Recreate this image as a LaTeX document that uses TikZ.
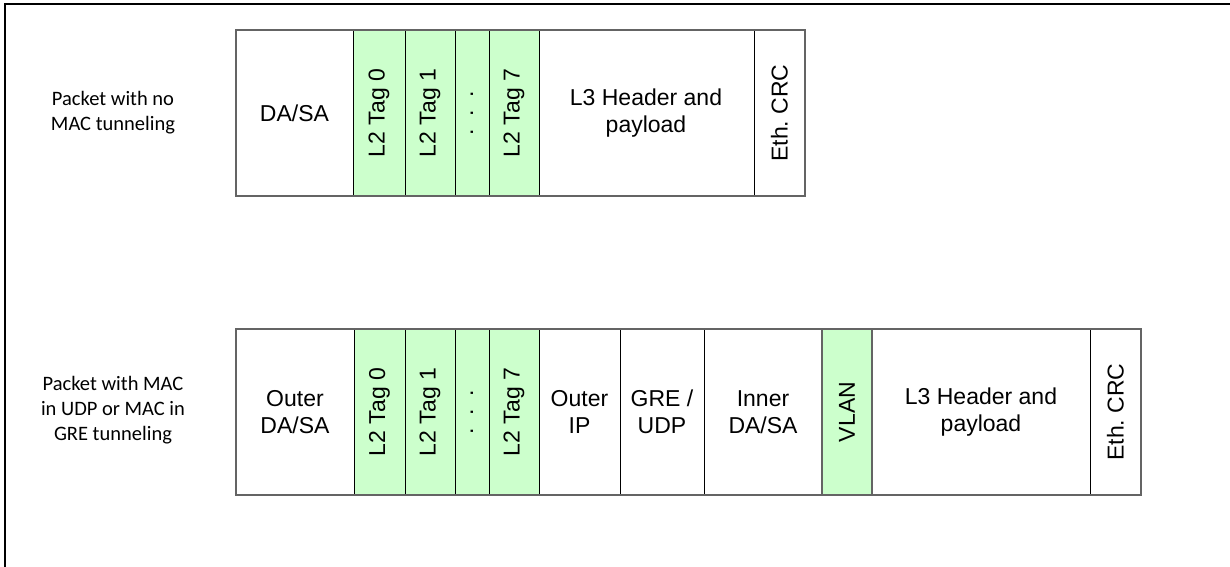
\documentclass[tikz,border=0pt]{standalone}
\usepackage{fontspec}
\setmainfont{Liberation Sans}
\newfontfamily\labelfont{Carlito}
\definecolor{taggreen}{RGB}{204,255,204}
\definecolor{edgegray}{RGB}{100,100,100}
\tikzset{
  celltext/.style={font=\fontsize{23}{27}\selectfont, align=center, inner sep=0pt},
  vtext/.style={celltext, rotate=90},
  rowlabel/.style={font=\labelfont\fontsize{20.5}{25}\selectfont, align=center, inner sep=0pt},
}
\begin{document}
\begin{tikzpicture}[x=1pt,y=-1pt,line join=miter]
            \useasboundingbox (0,0) rectangle (1230,566);

            % rahmen
            \draw[line width=2.5pt] (5,600) -- (5,4) -- (1260,4);

            % obere zeile: paket ohne tunnel
            \foreach \a/\b in {353/405,405/455,455/489,489/539}
                \fill[taggreen] (\a,30) rectangle (\b,196);
            \foreach \x in {353,405,455,489,539,754}
                \draw[line width=0.8pt] (\x,30) -- (\x,196);
            \draw[edgegray, line width=1.6pt] (236,30) rectangle (805,196);

            \node[rowlabel] (labno) at (113,113) {Packet with no\\MAC tunneling};
            \node[celltext] (dasa) at (294.5,113) {DA/SA};
            \node[vtext] (tagnull) at (379,113) {L2 Tag 0};
            \node[vtext] (tageins) at (430,113) {L2 Tag 1};
            \node[vtext] (dots) at (472,113) {.\ \ .\ \ .};
            \node[vtext] (tagsieben) at (514,113) {L2 Tag 7};
            \node[celltext] (lthree) at (646,113) {L3 Header and\\payload};
            \node[vtext] (crc) at (779.5,113) {Eth.\ CRC};

            % untere zeile: MAC in UDP / MAC in GRE
            \foreach \a/\b in {354/405,405/455,455/489,489/539,822/872}
                \fill[taggreen] (\a,329) rectangle (\b,495);
            \foreach \x in {354,405,455,489,539,620,704,822,872,1090}
                \draw[line width=0.8pt] (\x,329) -- (\x,495);
            \draw[edgegray, line width=1.6pt] (822,329) -- (822,495) (872,329) -- (872,495);
            \draw[edgegray, line width=1.6pt] (236,329) rectangle (1141,495);

            \node[rowlabel] (labtun) at (113,410) {Packet with MAC\\in UDP or MAC in\\GRE tunneling};
            \node[celltext] (odasa) at (295,412) {Outer\\DA/SA};
            \node[vtext] (otagnull) at (379.5,412) {L2 Tag 0};
            \node[vtext] (otageins) at (430,412) {L2 Tag 1};
            \node[vtext] (odots) at (472,412) {.\ \ .\ \ .};
            \node[vtext] (otagsieben) at (514,412) {L2 Tag 7};
            \node[celltext] (oip) at (579.5,412) {Outer\\IP};
            \node[celltext] (gre) at (662,412) {GRE /\\UDP};
            \node[celltext] (idasa) at (763,412) {Inner\\DA/SA};
            \node[vtext] (vlan) at (847,412) {VLAN};
            \node[celltext] (olthree) at (981,412) {L3 Header and\\payload};
            \node[vtext] (ocrc) at (1115.5,412) {Eth.\ CRC};
        \end{tikzpicture}
\end{document}
